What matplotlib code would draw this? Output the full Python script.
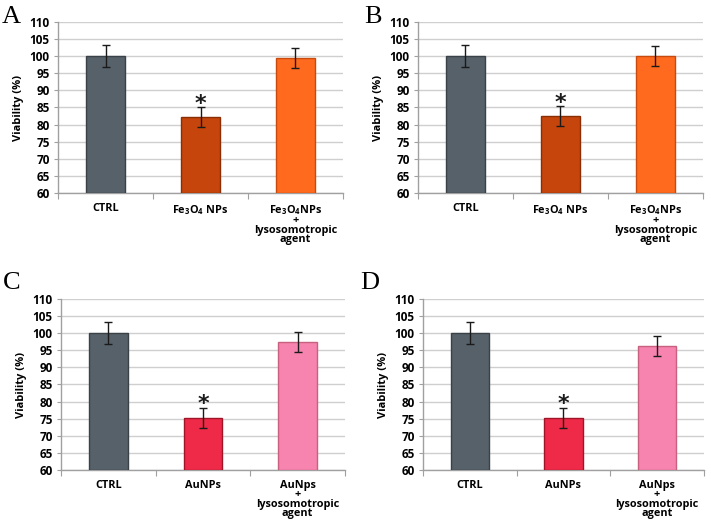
import matplotlib
matplotlib.use("Agg")
import matplotlib.pyplot as plt
import numpy as np

plt.rcParams['font.family'] = ['Open Sans', 'DejaVu Sans']
plt.rcParams['font.weight'] = 'bold'
plt.rcParams['mathtext.fontset'] = 'custom'
plt.rcParams['mathtext.rm'] = 'Open Sans:bold'
plt.rcParams['mathtext.default'] = 'rm'

# Data
labels_fe = ['CTRL', 'Fe$_3$O$_4$ NPs', 'Fe$_3$O$_4$NPs\n+\nlysosomotropic\nagent']
labels_au = ['CTRL', 'AuNPs', 'AuNps\n+\nlysosomotropic\nagent']
vals_A = [100.0, 82.2, 99.5]
err_A = [3.2, 2.9, 3.0]
vals_B = [100.0, 82.4, 100.0]
err_B = [3.2, 2.9, 3.0]
vals_C = [100.0, 75.3, 97.4]
err_C = [3.2, 2.9, 2.9]
vals_D = [100.0, 75.3, 96.3]
err_D = [3.2, 2.9, 2.9]
yticks = list(range(60, 111, 5))

colors_fe = ['#56616a', '#c6450c', '#ff6a1e']
edges_fe = ['#3a4248', '#8a2e06', '#c84a0c']
colors_au = ['#56616a', '#ee2a48', '#f684ae']
edges_au = ['#3a4248', '#a01428', '#c8607f']

fig = plt.figure(figsize=(7.11, 5.24), dpi=100)

panels = [
    ('A', [0.0816, 0.6317, 0.4008, 0.3263], labels_fe, vals_A, err_A, colors_fe, edges_fe, (2/711, 1-28/524)),
    ('B', [0.5879, 0.6317, 0.4008, 0.3263], labels_fe, vals_B, err_B, colors_fe, edges_fe, (364/711, 1-28/524)),
    ('C', [0.0858, 0.1031, 0.3994, 0.3263], labels_au, vals_C, err_C, colors_au, edges_au, (3/711, 1-294/524)),
    ('D', [0.5949, 0.1031, 0.3950, 0.3263], labels_au, vals_D, err_D, colors_au, edges_au, (360/711, 1-294/524)),
]

for letter, pos, labels, vals, errs, cols, edges, lpos in panels:
    ax = fig.add_axes(pos)
    x = np.arange(len(vals))
    ax.bar(x, [v - 60 for v in vals], bottom=60, width=0.41, color=cols,
           edgecolor=edges, linewidth=1.0, zorder=3)
    ax.errorbar(x, vals, yerr=errs, fmt='none', ecolor='#1a1a1a',
                elinewidth=1.0, capsize=3, capthick=1.0, zorder=4)
    # asterisk on second bar
    ax.text(x[1], vals[1] + errs[1] + 1.0, '*', ha='center', va='center',
            fontsize=16, fontweight='bold', color='#1a1a1a', zorder=5,
            family='DejaVu Sans')
    ax.set_xlim(-0.5, 2.5)
    ax.set_ylim(60, 110)
    ax.set_yticks(yticks)
    ax.set_yticklabels([str(t) for t in yticks], fontsize=8.5, fontweight='bold')
    ax.yaxis.grid(True, color='#cfcfcf', linewidth=1.0, zorder=0)
    ax.set_axisbelow(True)
    ax.set_xticks([-0.5, 0.5, 1.5, 2.5])
    ax.set_xticklabels([])
    ax.set_xticks(x, minor=True)
    ax.set_xticklabels(labels, minor=True, fontsize=7.8, fontweight='bold',
                       linespacing=0.82, va='top')
    ax.tick_params(axis='x', which='minor', length=0, pad=7)
    ax.tick_params(axis='x', which='major', length=4, color='#a0a0a0', direction='out')
    ax.tick_params(axis='y', length=3, color='#a0a0a0', pad=3)
    for s in ['top', 'right']:
        ax.spines[s].set_visible(False)
    for s in ['left', 'bottom']:
        ax.spines[s].set_color('#a0a0a0')
        ax.spines[s].set_linewidth(1.0)
    ax.set_ylabel('Viability (%)', fontsize=8, fontweight='bold', labelpad=4)
    fig.text(lpos[0], lpos[1], letter, fontsize=19, family='Liberation Serif',
             fontweight='normal', ha='left', va='bottom')

fig.savefig('out.png', dpi=100)
